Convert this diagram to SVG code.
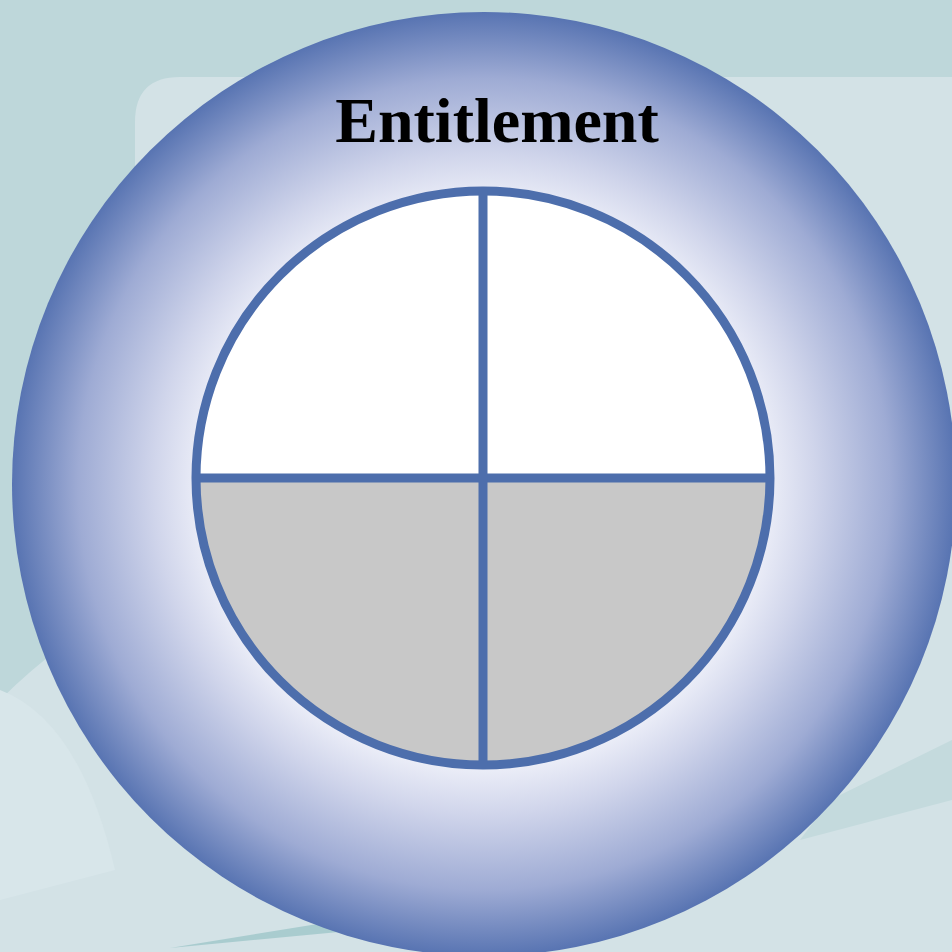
<svg xmlns="http://www.w3.org/2000/svg" width="952" height="952" viewBox="0 0 952 952">
<defs>
<radialGradient id="ring" cx="484" cy="484" r="472" gradientUnits="userSpaceOnUse">
<stop offset="0.6" stop-color="#eceef8"/>
<stop offset="0.7" stop-color="#d0d5eb"/>
<stop offset="0.86" stop-color="#9eabd4"/>
<stop offset="1" stop-color="#5874b2"/>
</radialGradient>
<style>
.div{stroke:#4d6eac;stroke-width:9;fill:none}
.title{font-family:"Liberation Serif","Times New Roman",serif;font-weight:bold;font-size:64px;fill:#000}
</style>
</defs>
<g id="background">
<rect width="952" height="952" fill="#bed7da"/>
<path d="M180 77 H952 V952 H0 V700 Q60 640 135 600 V122 Q135 77 180 77 Z" fill="#d3e2e6"/>
<path d="M0 690 Q80 720 115 870 L0 900 Z" fill="#d8e6ea"/>
<path d="M170 948 L330 922 L360 930 Z" fill="#a9cccf"/>
<path d="M830 800 L952 740 V800 L800 840 Z" fill="#c4dadd"/>
</g>
<g id="ring-node">
<circle cx="484" cy="484" r="472" fill="url(#ring)"/>
</g>
<g id="title">
<text class="title" x="497" y="142" text-anchor="middle">Entitlement</text>
</g>
<g id="top-left"><path d="M483 478 H196 A287 287 0 0 1 483 191 Z" fill="#ffffff"/></g>
<g id="top-right"><path d="M483 478 V191 A287 287 0 0 1 770 478 Z" fill="#ffffff"/></g>
<g id="bottom-left"><path d="M483 478 H196 A287 287 0 0 0 483 765 Z" fill="#c8c8c8"/></g>
<g id="bottom-right"><path d="M483 478 V765 A287 287 0 0 0 770 478 Z" fill="#c8c8c8"/></g>
<g id="connectors">
<circle class="div" cx="483" cy="478" r="287"/>
<line class="div" x1="196" y1="478" x2="770" y2="478"/>
<line class="div" x1="483" y1="191" x2="483" y2="765"/>
</g>
</svg>
